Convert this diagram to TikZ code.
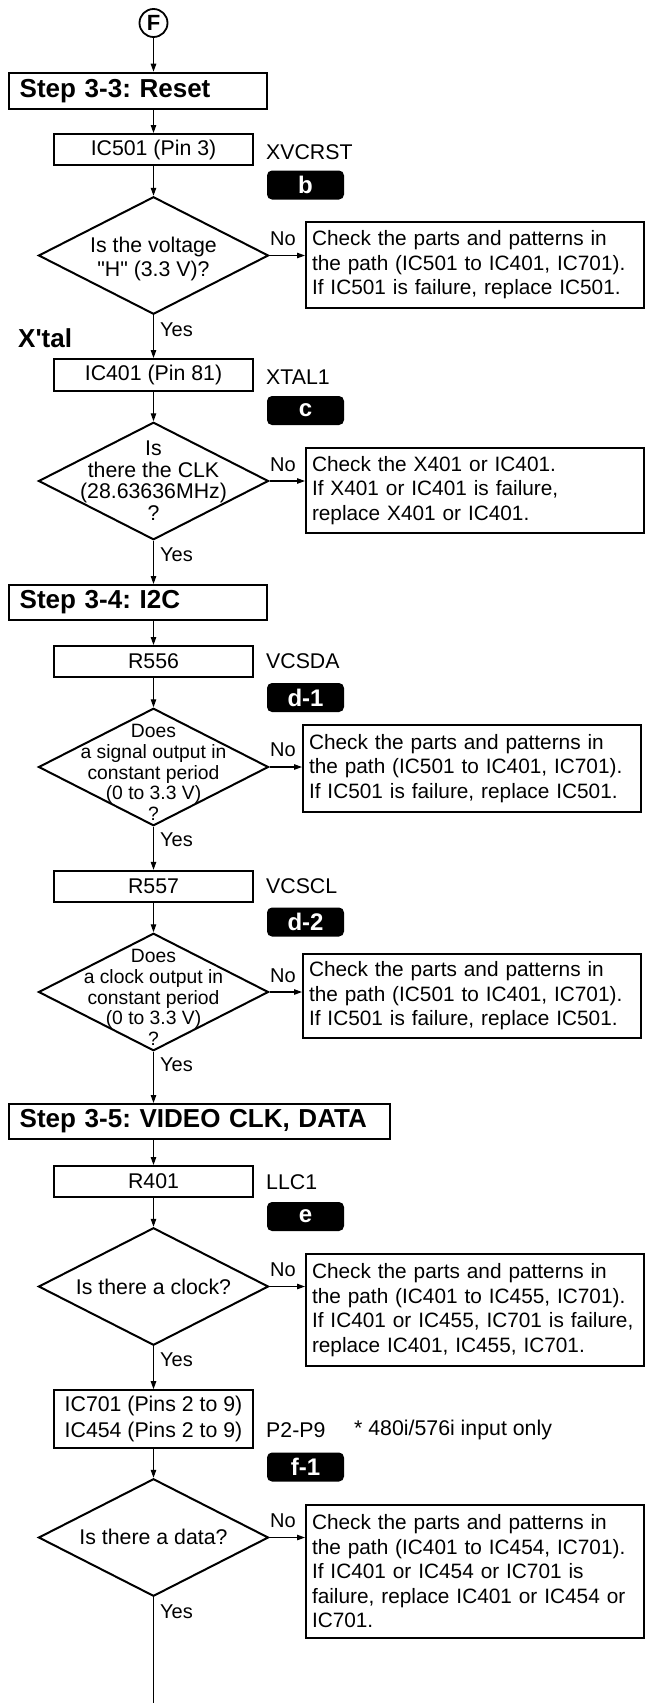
\documentclass[tikz,border=0pt]{standalone}
\usepackage{fontspec}
\setmainfont{Liberation Sans}[Ligatures=TeXOff]
\usetikzlibrary{shapes.geometric,arrows.meta}
\frenchspacing
\begin{document}
\begin{tikzpicture}[x=1pt,y=-1pt,
  every node/.style={font=\fontsize{21.3}{24.5}\selectfont},
  arr/.style={-{Triangle[length=8pt,width=5.5pt]}, line width=1.1pt},
  ln/.style={line width=1.1pt},
  stepbox/.style={draw, line width=2pt, anchor=north west, inner xsep=11pt, inner ysep=0pt, align=left, font=\fontsize{26}{28}\bfseries\selectfont},
  icbox/.style={draw, line width=2pt, minimum width=199.4pt, minimum height=31pt, inner sep=0pt, align=center},
  chk/.style={draw, line width=2pt, anchor=north west, minimum width=338pt, text width=326pt, inner xsep=6pt, inner ysep=0pt, align=left, font=\fontsize{20.8}{24.5}\selectfont},
  dia/.style={diamond, draw, line width=2pt, minimum width=230pt, minimum height=117.5pt, inner sep=0pt},
  dtext/.style={align=center, inner sep=0pt},
  badge/.style={fill=black, rounded corners=5pt, minimum width=77pt, minimum height=29pt, inner sep=0pt, text=white, font=\fontsize{24}{24}\bfseries\selectfont},
  side/.style={anchor=west, inner sep=0pt},
  yes/.style={anchor=west, inner sep=0pt, font=\fontsize{20}{20}\selectfont},
  no/.style={inner sep=0pt, font=\fontsize{20}{20}\selectfont}
]
\useasboundingbox (0,0) rectangle (667,1703);

% start
\node[circle, draw, line width=1.8pt, minimum size=28pt, inner sep=0pt, font=\fontsize{22}{22}\bfseries\selectfont] (F) at (153.5,23) {F};

% Step 3-3
\node[stepbox, minimum height=36pt, text width=236pt] (s33) at (7.7,71.7) {Step 3-3: Reset};
\node[icbox] (b1) at (153.5,149.5) {IC501 (Pin 3)};
\node[side] (l1) at (266,152) {XVCRST};
\node[badge] (k1) at (305.5,185) {b};
\node[dia] (d1) at (153.5,255.5) {};
\node[dtext] (d1t) at (153.5,259) {Is the voltage\\"H" (3.3 V)?};
\node[chk, minimum height=86pt] (c1) at (305,220.7) {Check the parts and patterns in\\the path (IC501 to IC401, IC701).\\If IC501 is failure, replace IC501.};
\node[no] (n1) at (283,239) {No};
\node[yes] (y1) at (160,330) {Yes};

% X'tal
\node[side, font=\fontsize{26}{28}\bfseries\selectfont] (xt) at (18,338) {X'tal};
\node[icbox, minimum height=32pt] (b2) at (153.5,375) {IC401 (Pin 81)};
\node[side] (l2) at (266,377) {XTAL1};
\node[badge] (k2) at (305.5,410.5) {c};
\node[dia] (d2) at (153.5,481) {};
\node[dtext, font=\fontsize{21.3}{21.5}\selectfont] (d2t) at (153.5,480.5) {Is\\there the CLK\\(28.63636MHz)\\?};
\node[chk, minimum height=85.3pt] (c2) at (305,446.7) {Check the X401 or IC401.\\If X401 or IC401 is failure,\\replace X401 or IC401.};
\node[no] (n2) at (283,465) {No};
\node[yes] (y2) at (160,555) {Yes};

% Step 3-4
\node[stepbox, minimum height=35pt, text width=236pt] (s34) at (7.7,584) {Step 3-4: I2C};
\node[icbox] (b3) at (153.5,661.5) {R556};
\node[side] (l3) at (266,661) {VCSDA};
\node[badge] (k3) at (305.5,697.5) {d-1};
\node[dia] (d3) at (153.5,767) {};
\node[dtext, font=\fontsize{19.3}{20.8}\selectfont] (d3t) at (153.5,772.4) {Does\\a signal output in\\constant period\\(0 to 3.3 V)\\?};
\node[chk, minimum height=87pt] (c3) at (302,724) {Check the parts and patterns in\\the path (IC501 to IC401, IC701).\\If IC501 is failure, replace IC501.};
\node[no] (n3) at (283,750) {No};
\node[yes] (y3) at (160,840) {Yes};

\node[icbox] (b4) at (153.5,886.3) {R557};
\node[side] (l4) at (266,886) {VCSCL};
\node[badge] (k4) at (305.5,922) {d-2};
\node[dia] (d4) at (153.5,992) {};
\node[dtext, font=\fontsize{19.3}{20.8}\selectfont] (d4t) at (153.5,997.5) {Does\\a clock output in\\constant period\\(0 to 3.3 V)\\?};
\node[chk, minimum height=84pt] (c4) at (302,952.7) {Check the parts and patterns in\\the path (IC501 to IC401, IC701).\\If IC501 is failure, replace IC501.};
\node[no] (n4) at (283,976) {No};
\node[yes] (y4) at (160,1065) {Yes};

% Step 3-5
\node[stepbox, minimum height=35pt, text width=359.3pt] (s35) at (7.7,1103) {Step 3-5: VIDEO CLK, DATA};
\node[icbox] (b5) at (153.5,1181.5) {R401};
\node[side] (l5) at (266,1182) {LLC1};
\node[badge] (k5) at (305.5,1216.5) {e};
\node[dia] (d5) at (153.5,1286.5) {};
\node[dtext] (d5t) at (153.5,1286.7) {Is there a clock?};
\node[chk, minimum height=112pt] (c5) at (305,1253) {Check the parts and patterns in\\the path (IC401 to IC455, IC701).\\\mbox{If IC401 or IC455, IC701 is failure,}\\replace IC401, IC455, IC701.};
\node[no] (n5) at (283,1270) {No};
\node[yes] (y5) at (160,1360) {Yes};

\node[icbox, minimum height=57.7pt, font=\fontsize{21.3}{26}\selectfont] (b6) at (153.5,1419) {IC701 (Pins 2 to 9)\\IC454 (Pins 2 to 9)};
\node[side] (l6) at (266,1430) {P2-P9};
\node[side] (l7) at (354,1430) {* 480i/576i input only};
\node[badge] (k6) at (305.5,1467) {f-1};
\node[dia] (d6) at (153.5,1537.5) {};
\node[dtext] (d6t) at (153.5,1537) {Is there a data?};
\node[chk, minimum height=133pt] (c6) at (305,1504) {Check the parts and patterns in\\the path (IC401 to IC454, IC701).\\If IC401 or IC454 or IC701 is\\failure, replace IC401 or IC454 or\\IC701.};
\node[no] (n6) at (283,1520.7) {No};
\node[yes] (y6) at (160,1611.7) {Yes};
\coordinate (end) at (153.5,1703);

% connectors
\draw[arr] (F) -- (F |- s33.north);
\draw[arr] (b1.north |- s33.south) -- (b1.north);
\draw[arr] (b1.south) -- (d1.north);
\draw[arr] (d1.east) -- (d1.east -| c1.west);
\draw[arr] (d1.south) -- (b2.north);
\draw[arr] (b2.south) -- (d2.north);
\draw[arr] (d2.east) -- (d2.east -| c2.west);
\draw[arr] (d2.south) -- (d2.south |- s34.north);
\draw[arr] (b3.north |- s34.south) -- (b3.north);
\draw[arr] (b3.south) -- (d3.north);
\draw[arr] (d3.east) -- (d3.east -| c3.west);
\draw[arr] (d3.south) -- (b4.north);
\draw[arr] (b4.south) -- (d4.north);
\draw[arr] (d4.east) -- (d4.east -| c4.west);
\draw[arr] (d4.south) -- (d4.south |- s35.north);
\draw[arr] (b5.north |- s35.south) -- (b5.north);
\draw[arr] (b5.south) -- (d5.north);
\draw[arr] (d5.east) -- (d5.east -| c5.west);
\draw[arr] (d5.south) -- (b6.north);
\draw[arr] (b6.south) -- (d6.north);
\draw[arr] (d6.east) -- (d6.east -| c6.west);
\draw[ln] (d6.south) -- (end);
\end{tikzpicture}
\end{document}
